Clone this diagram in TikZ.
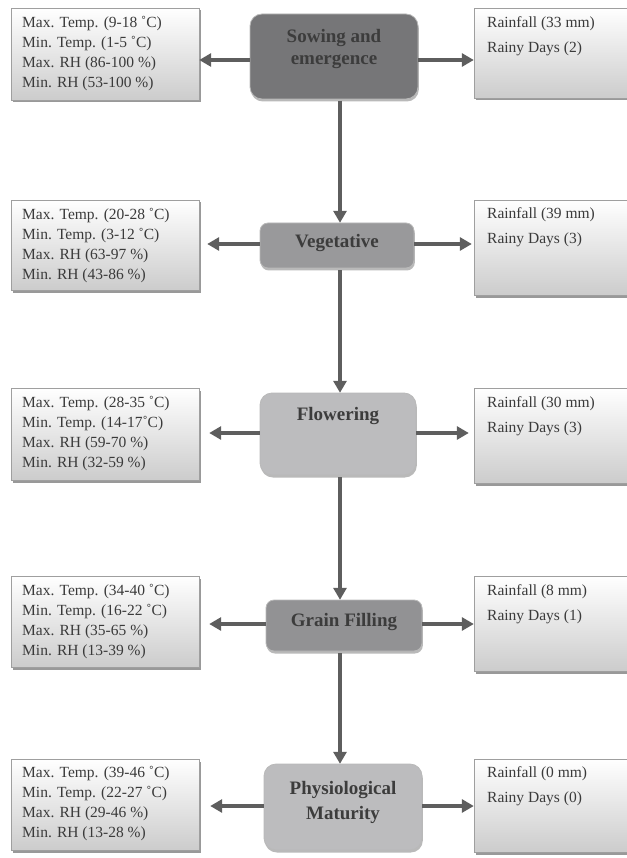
\documentclass[tikz,border=0pt]{standalone}
\usepackage{fontspec}
\setmainfont{Liberation Serif}
\usetikzlibrary{shadows,arrows.meta,calc}
\definecolor{arrc}{HTML}{5E5E5E}
\definecolor{txtc}{HTML}{3A3A3A}
\definecolor{ttlc}{HTML}{3C3C3C}
\definecolor{sowc}{RGB}{118,118,120}
\definecolor{vegc}{RGB}{153,153,155}
\definecolor{flwc}{RGB}{188,188,190}
\definecolor{grnc}{RGB}{146,146,148}
\tikzset{
  sidebox/.style={draw=gray!75, line width=0.6pt, top color=white, bottom color=gray!40,
    drop shadow={shadow xshift=1.5pt, shadow yshift=-2.5pt, fill=gray!80, opacity=1}},
  stagebox/.style={draw=gray!55, line width=0.8pt, rounded corners=12pt,
    drop shadow={shadow xshift=0.8pt, shadow yshift=-2.5pt, fill=gray!55, opacity=1}},
  anchorbox/.style={inner sep=0pt},
  sidetxt/.style={anchor=north west, inner sep=0pt, text=txtc, font=\fontsize{15.5}{20}\selectfont, align=left},
  raintxt/.style={anchor=north west, inner sep=0pt, text=txtc, font=\fontsize{15.5}{25}\selectfont, align=left},
  ttl/.style={inner sep=0pt, text=ttlc, font=\fontsize{19}{22}\selectfont\bfseries, align=center},
  arr/.style={draw=arrc, line width=4.5pt, -{Triangle[length=12pt,width=13pt]}},
}
\begin{document}
\begin{tikzpicture}[x=1pt,y=-1pt]
\useasboundingbox (0,0) rectangle (626,858);
\coordinate (X) at (340,0);
% ---------- Row 1
\path[sidebox] (11,8) rectangle (199,100);
\node[anchorbox, minimum width=188pt, minimum height=92pt] (L1) at (105,54) {};
\node[sidetxt] (L1t) at (22,16.5) {Max. Temp. (9-18 ˚C)\\Min. Temp. (1-5 ˚C)\\Max. RH (86-100 \%)\\Min. RH (53-100 \%)};
\path[stagebox, fill=sowc] (250,14) rectangle (418,99);
\node[anchorbox, minimum width=168pt, minimum height=85pt] (S1) at (334,56.5) {};
\node[ttl] (S1t) at (334,49) {Sowing and\\emergence};
\path[sidebox] (474,8) rectangle (630,98);
\node[anchorbox, minimum width=156pt, minimum height=90pt] (R1) at (552,53) {};
\node[raintxt] (R1t) at (487,16.5) {Rainfall (33 mm)\\Rainy Days (2)};
% ---------- Row 2
\path[sidebox] (11,200) rectangle (199,290);
\node[anchorbox, minimum width=188pt, minimum height=90pt] (L2) at (105,245) {};
\node[sidetxt] (L2t) at (22,208.5) {Max. Temp. (20-28 ˚C)\\Min. Temp. (3-12 ˚C)\\Max. RH (63-97 \%)\\Min. RH (43-86 \%)};
\path[stagebox, rounded corners=8pt, fill=vegc] (260,223) rectangle (414,268);
\node[anchorbox, minimum width=154pt, minimum height=45pt] (S2) at (337,245.5) {};
\node[ttl] (S2t) at (337,243) {Vegetative};
\path[sidebox] (474,200) rectangle (630,295);
\node[anchorbox, minimum width=156pt, minimum height=95pt] (R2) at (552,247.5) {};
\node[raintxt] (R2t) at (487,207.5) {Rainfall (39 mm)\\Rainy Days (3)};
% ---------- Row 3
\path[sidebox] (11,388) rectangle (199,480);
\node[anchorbox, minimum width=188pt, minimum height=92pt] (L3) at (105,434) {};
\node[sidetxt] (L3t) at (22,396.5) {Max. Temp. (28-35 ˚C)\\Min. Temp. (14-17˚C)\\Max. RH (59-70 \%)\\Min. RH (32-59 \%)};
\path[stagebox, fill=flwc] (260,393) rectangle (416,475);
\node[anchorbox, minimum width=156pt, minimum height=82pt] (S3) at (338,434) {};
\node[ttl] (S3t) at (338,416) {Flowering};
\path[sidebox] (474,388) rectangle (630,483);
\node[anchorbox, minimum width=156pt, minimum height=95pt] (R3) at (552,435.5) {};
\node[raintxt] (R3t) at (487,396.5) {Rainfall (30 mm)\\Rainy Days (3)};
% ---------- Row 4
\path[sidebox] (11,576) rectangle (199,667);
\node[anchorbox, minimum width=188pt, minimum height=91pt] (L4) at (105,621.5) {};
\node[sidetxt] (L4t) at (22,584.5) {Max. Temp. (34-40 ˚C)\\Min. Temp. (16-22 ˚C)\\Max. RH (35-65 \%)\\Min. RH (13-39 \%)};
\path[stagebox, rounded corners=8pt, fill=grnc] (266,600) rectangle (422,651);
\node[anchorbox, minimum width=156pt, minimum height=51pt] (S4) at (344,625.5) {};
\node[ttl] (S4t) at (344,622) {Grain Filling};
\path[sidebox] (474,576) rectangle (630,671);
\node[anchorbox, minimum width=156pt, minimum height=95pt] (R4) at (552,623.5) {};
\node[raintxt] (R4t) at (487,584) {Rainfall (8 mm)\\Rainy Days (1)};
% ---------- Row 5
\path[sidebox] (11,759) rectangle (199,850);
\node[anchorbox, minimum width=188pt, minimum height=91pt] (L5) at (105,804.5) {};
\node[sidetxt] (L5t) at (22,766.5) {Max. Temp. (39-46 ˚C)\\Min. Temp. (22-27 ˚C)\\Max. RH (29-46 \%)\\Min. RH (13-28 \%)};
\path[stagebox, fill=flwc] (264,764) rectangle (422,850);
\node[anchorbox, minimum width=158pt, minimum height=86pt] (S5) at (343,807) {};
\node[ttl, font=\fontsize{19}{25}\selectfont\bfseries] (S5t) at (343,802.5) {Physiological\\Maturity};
\path[sidebox] (474,759) rectangle (630,852);
\node[anchorbox, minimum width=156pt, minimum height=93pt] (R5) at (552,805.5) {};
\node[raintxt] (R5t) at (487,766.5) {Rainfall (0 mm)\\Rainy Days (0)};
% ---------- horizontal arrows
\draw[arr] ([yshift=-3.5pt]S1.west) -- ([yshift=-3.5pt]S1.west -| L1.east);
\draw[arr] ([yshift=-3.5pt]S1.east) -- ([yshift=-3.5pt]S1.east -| R1.west);
\draw[arr, shorten >=8pt] ([yshift=1.5pt]S2.west) -- ([yshift=1.5pt]S2.west -| L2.east);
\draw[arr, shorten >=2pt] ([yshift=1.5pt]S2.east) -- ([yshift=1.5pt]S2.east -| R2.west);
\draw[arr, shorten >=10pt] ([yshift=1pt]S3.west) -- ([yshift=1pt]S3.west -| L3.east);
\draw[arr, shorten >=5pt] ([yshift=1pt]S3.east) -- ([yshift=1pt]S3.east -| R3.west);
\draw[arr, shorten >=10pt] ([yshift=1.5pt]S4.west) -- ([yshift=1.5pt]S4.west -| L4.east);
\draw[arr] ([yshift=1.5pt]S4.east) -- ([yshift=1.5pt]S4.east -| R4.west);
\draw[arr, shorten >=11pt] ([yshift=1pt]S5.west) -- ([yshift=1pt]S5.west -| L5.east);
\draw[arr] ([yshift=1pt]S5.east) -- ([yshift=1pt]S5.east -| R5.west);
% ---------- vertical arrows
\draw[arr] ([yshift=-1.5pt]S1.south -| X) -- (S2.north -| X);
\draw[arr] ([yshift=-2pt]S2.south -| X) -- (S3.north -| X);
\draw[arr] ([yshift=-2pt]S3.south -| X) -- (S4.north -| X);
\draw[arr] ([yshift=-2pt]S4.south -| X) -- (S5.north -| X);
\end{tikzpicture}
\end{document}
